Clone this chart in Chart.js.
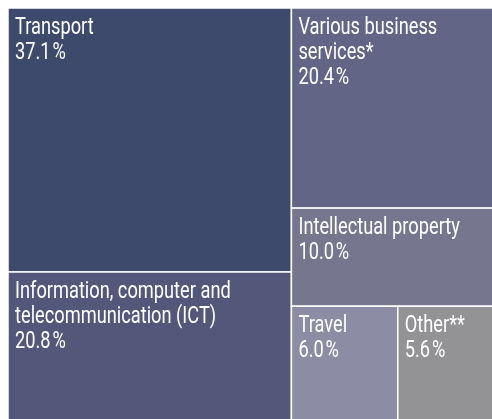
<!DOCTYPE html>
<html>
<head>
<meta charset="utf-8">
<script src="https://cdn.jsdelivr.net/npm/chart.js@4.4.1/dist/chart.umd.min.js"></script>
<style>
    body { margin: 0; background: #fff; overflow: hidden; }
    #wrap { width: 497px; height: 420px; }
</style>
</head>
<body>
<div id="wrap"><canvas id="treeChart"></canvas></div>
<script>
// shares of services exports, in %
const categories = [
    'Transport',
    'Information, computer and\ntelecommunication (ICT)',
    'Various business\nservices*',
    'Intellectual property',
    'Travel',
    'Other**'
];
const shares = [37.1, 20.8, 20.4, 10.0, 6.0, 5.6];
const cellColors = ['#3e4a6c', '#53587a', '#636586', '#76768f', '#8c8ca4', '#939396'];

// binary treemap: split the list where the running sum is closest to half,
// cut along the longer side (in pixels), recurse
function binaryLayout(values, x0, y0, x1, y1, chart) {
    const sx = chart.scales.x, sy = chart.scales.y;
    const out = [];
    const sums = [0];
    values.forEach((v, i) => sums.push(sums[i] + v));

    function part(i, j, value, x0, y0, x1, y1) {
        if (i >= j - 1) {
            out[i] = {x0, y0, x1, y1};
            return;
        }
        const offset = sums[i];
        const target = value / 2 + offset;
        let k = i + 1, hi = j - 1;
        while (k < hi) {
            const mid = (k + hi) >>> 1;
            if (sums[mid] < target) k = mid + 1; else hi = mid;
        }
        if ((target - sums[k - 1]) < (sums[k] - target) && i + 1 < k) --k;
        const left = sums[k] - offset, right = value - left;
        const wPx = Math.abs(sx.getPixelForValue(x1) - sx.getPixelForValue(x0));
        const hPx = Math.abs(sy.getPixelForValue(y1) - sy.getPixelForValue(y0));
        if (wPx > hPx) {
            const xk = (x0 * right + x1 * left) / value;
            part(i, k, left, x0, y0, xk, y1);
            part(k, j, right, xk, y0, x1, y1);
        } else {
            const yk = (y0 * right + y1 * left) / value;
            part(i, k, left, x0, y0, x1, yk);
            part(k, j, right, x0, yk, x1, y1);
        }
    }
    part(0, values.length, sums[values.length], x0, y0, x1, y1);
    return out;
}

const treemapCells = {
    id: 'treemapCells',
    afterDatasetsDraw(chart) {
        const ctx = chart.ctx;
        const sx = chart.scales.x, sy = chart.scales.y;
        const rects = binaryLayout(shares, 0, 0, 100, 100, chart);
        ctx.save();
        rects.forEach((r, i) => {
            const left = sx.getPixelForValue(r.x0), right = sx.getPixelForValue(r.x1);
            const top = sy.getPixelForValue(r.y0), bottom = sy.getPixelForValue(r.y1);
            ctx.fillStyle = cellColors[i];
            ctx.fillRect(left, top, right - left, bottom - top);
            ctx.strokeStyle = '#ffffff';
            ctx.lineWidth = 1.5;
            ctx.strokeRect(left, top, right - left, bottom - top);

            // label + value, condensed type
            const lines = categories[i].split('\n');
            lines.push(shares[i].toFixed(1) + '\u200A%');
            ctx.fillStyle = '#ffffff';
            ctx.font = '24px Roboto, "Noto Sans", sans-serif';
            ctx.textBaseline = 'alphabetic';
            ctx.textAlign = 'left';
            lines.forEach((txt, n) => {
                ctx.save();
                ctx.translate(left + 7, top + 26 + n * 25);
                ctx.scale(0.76, 1);
                ctx.fillText(txt, 0, 0);
                ctx.restore();
            });
        });
        ctx.restore();
    }
};

new Chart(document.getElementById('treeChart'), {
    type: 'scatter',
    data: { datasets: [{ data: [] }] },
    options: {
        responsive: true,
        maintainAspectRatio: false,
        animation: false,
        layout: { padding: { left: 8, top: 8, right: 0, bottom: 0 } },
        scales: {
            x: { type: 'linear', min: 0, max: 100, display: false },
            y: { type: 'linear', min: 0, max: 100, reverse: true, display: false }
        },
        plugins: {
            legend: { display: false },
            tooltip: { enabled: false }
        }
    },
    plugins: [treemapCells]
});
</script>
</body>
</html>
